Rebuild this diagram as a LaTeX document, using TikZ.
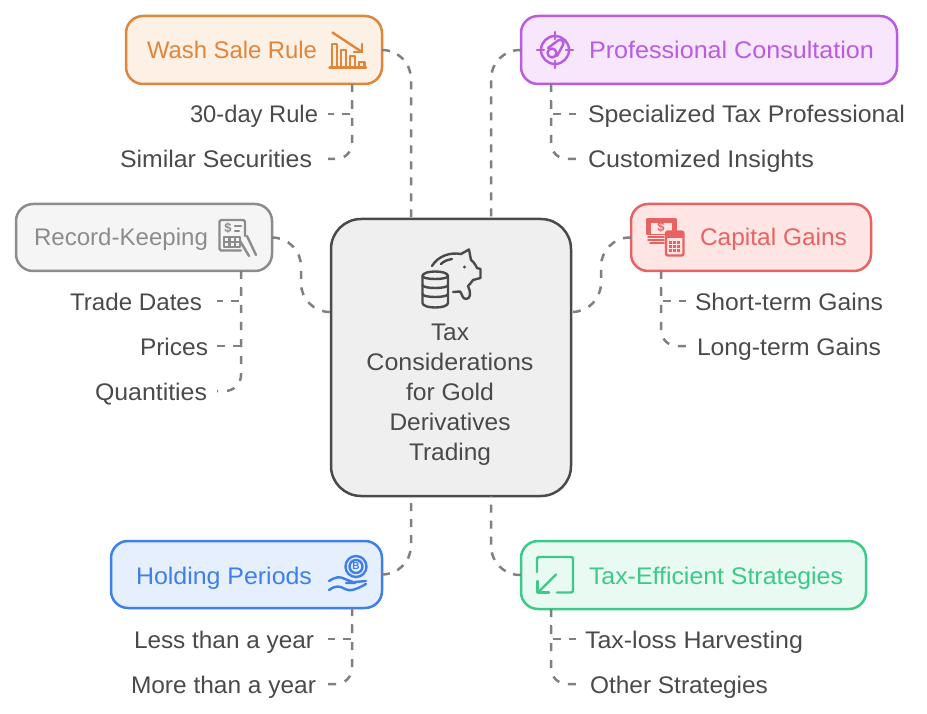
\documentclass[tikz,border=0pt]{standalone}
\usepackage{fontspec}
\usepackage{graphicx}
\setmainfont{Liberation Sans}
\usetikzlibrary{arrows.meta}
\newcommand\fitw[2]{\resizebox{#1pt}{\height}{#2}}
\definecolor{cwash}{HTML}{E0853A}\definecolor{fwash}{HTML}{FDF0E5}
\definecolor{cprof}{HTML}{B95CE0}\definecolor{fprof}{HTML}{F7E6FC}
\definecolor{crec}{HTML}{8C8C8C}\definecolor{frec}{HTML}{F5F5F5}
\definecolor{ccap}{HTML}{E86262}\definecolor{fcap}{HTML}{FFE6E4}
\definecolor{chold}{HTML}{3F7FE8}\definecolor{fhold}{HTML}{E5EFFE}
\definecolor{ctax}{HTML}{3CC98A}\definecolor{ftax}{HTML}{E8FAF2}
\definecolor{ccen}{HTML}{4A4A4A}\definecolor{fcen}{HTML}{EFEFEF}
\definecolor{clink}{HTML}{808080}
\tikzset{
 x=1pt,y=-1pt,
 boxnode/.style={draw,rounded corners=17pt,line width=2.5pt,inner sep=0,outer sep=0,anchor=north west},
 title/.style={inner sep=0,outer sep=0,anchor=base west,font=\fontsize{24}{28}\selectfont},
 child/.style={inner sep=0,outer sep=0,anchor=base west,text=ccen,font=\fontsize{24}{28}\selectfont},
 conn/.style={draw=clink,line width=2.5pt,dash pattern=on 8pt off 8pt},
 curve/.style={conn,rounded corners=29pt},
 scurve/.style={conn,rounded corners=29pt,dash pattern=on 8pt off 8.6pt},
 curvesmall/.style={conn,rounded corners=16pt,dash pattern=on 8pt off 9pt},
 ic/.style={line width=2.4pt,line cap=round,line join=round},
}
\begin{document}
\begin{tikzpicture}
\useasboundingbox (0,0) rectangle (927,714);
\coordinate (ctl) at (411,219);\coordinate (ctr) at (491,219);
\coordinate (cbl) at (411,496);\coordinate (cbr) at (491,496);
\coordinate (cl) at (331,312);\coordinate (cr) at (571,312);
\coordinate (e30) at (328,114);\coordinate (esim) at (328,159);
\coordinate (espec) at (576,114);\coordinate (ecus) at (576,159);
\coordinate (etra) at (217,301);\coordinate (epri) at (217,346);\coordinate (equa) at (217,391);
\coordinate (esho) at (686,301);\coordinate (elon) at (686,346);
\coordinate (eles) at (328,639);\coordinate (emor) at (328,684);
\coordinate (etl) at (576,639);\coordinate (eoth) at (576,684);
\coordinate (wb) at (352,84);\coordinate (pb) at (551,84);
\coordinate (rb) at (241,271);\coordinate (cb) at (661,271);
\coordinate (hb) at (352,608);\coordinate (tb) at (551,609);
% boxes
\node[boxnode,minimum width=256pt,minimum height=68pt,draw=cwash,fill=fwash] (wash) at (126,16) {};
\node[boxnode,minimum width=376pt,minimum height=68pt,draw=cprof,fill=fprof] (prof) at (521,16) {};
\node[boxnode,minimum width=256pt,minimum height=67pt,draw=crec,fill=frec] (rec) at (16,204) {};
\node[boxnode,minimum width=240pt,minimum height=67pt,draw=ccap,fill=fcap] (cap) at (631,204) {};
\node[boxnode,minimum width=271pt,minimum height=67pt,draw=chold,fill=fhold] (hold) at (111,541) {};
\node[boxnode,minimum width=345pt,minimum height=68pt,draw=ctax,fill=ftax] (tax) at (521,541) {};
\node[boxnode,minimum width=240pt,minimum height=277pt,draw=ccen,fill=fcen,rounded corners=30pt] (cen) at (331,219) {};
% connectors
\draw[curve] (wash.east) -| (ctl);
\draw[curve] (prof.west) -| (ctr);
\draw[curve] (hold.east) -| (cbl);
\draw[curve] (tax.west) -| (cbr);
\draw[scurve] (rec.east) -- (301,237.5) -- (301,312) -- (cl);
\draw[scurve] (cap.west) -- (601,237.5) -- (601,312) -- (cr);
\draw[conn] (wb) -- (352,114) -- (e30);
\draw[curvesmall] (wb) |- (esim);
\draw[conn] (pb) -- (551,114) -- (espec);
\draw[curvesmall] (pb) |- (ecus);
\draw[conn] (rb) -- (241,301) -- (etra);
\draw[conn] (241,346) -- (epri);
\draw[curvesmall] (rb) |- (equa);
\draw[conn] (cb) -- (661,301) -- (esho);
\draw[curvesmall] (cb) |- (elon);
\draw[conn] (hb) -- (352,639) -- (eles);
\draw[curvesmall] (hb) |- (emor);
\draw[conn] (tb) -- (551,639) -- (etl);
\draw[curvesmall] (tb) |- (eoth);
% titles
\node[title,text=cwash] (twash) at (147,58.5) {\fitw{170}{Wash Sale Rule}};
\node[title,text=cprof] (tprof) at (589,58.5) {\fitw{285}{Professional Consultation}};
\node[title,text=crec] (trec) at (34,246) {\fitw{174}{Record-Keeping}};
\node[title,text=ccap] (tcap) at (700,246) {\fitw{147}{Capital Gains}};
\node[title,text=chold] (thold) at (136,584) {\fitw{176}{Holding Periods}};
\node[title,text=ctax] (ttax) at (589,584) {\fitw{254}{Tax-Efficient Strategies}};
% children
\node[child] (n30) at (190,123) {\fitw{128}{30-day Rule}};
\node[child] (nsim) at (120,168) {\fitw{192}{Similar Securities}};
\node[child] (nspec) at (588,123) {\fitw{317}{Specialized Tax Professional}};
\node[child] (ncus) at (588,168) {\fitw{226}{Customized Insights}};
\node[child] (ntra) at (70,310) {\fitw{132}{Trade Dates}};
\node[child] (npri) at (140,355) {\fitw{68}{Prices}};
\node[child] (nqua) at (95,400) {\fitw{112}{Quantities}};
\node[child] (nsho) at (695,310) {\fitw{188}{Short-term Gains}};
\node[child] (nlon) at (697,355) {\fitw{184}{Long-term Gains}};
\node[child] (nles) at (134,648) {\fitw{180}{Less than a year}};
\node[child] (nmor) at (131,693) {\fitw{185}{More than a year}};
\node[child] (ntl) at (585,648) {\fitw{218}{Tax-loss Harvesting}};
\node[child] (noth) at (590,693) {\fitw{178}{Other Strategies}};
\node[child,anchor=center,align=center,font=\fontsize{24}{30}\selectfont] (tcen) at (450,394.5) {\fitw{38}{Tax}\\\fitw{167}{Considerations}\\\fitw{88}{for Gold}\\\fitw{121}{Derivatives}\\\fitw{82}{Trading}};
% wash icon
\begin{scope}[ic,draw=cwash]
\draw (329.5,67.5) -- (366,67.5);
\draw (332,66) -- (332,44) -- (337,44) -- (337,66);
\draw (341,66) -- (341,50) -- (346,50) -- (346,66);
\draw (350,66) -- (350,56) -- (355,56) -- (355,66);
\draw (359,66) -- (359,62) -- (364.5,62) -- (364.5,66);
\draw (332.5,32.5) -- (362,52);
\draw (362,44) -- (362,52) -- (354,52);
\end{scope}
% professional icon
\begin{scope}[ic,draw=cprof]
\draw (555,50) circle (14);
\draw (555,32) -- (555,39);\draw (555,61) -- (555,68);
\draw (537,50) -- (544,50);\draw (566,50) -- (573,50);
\draw (552,53) circle (4.5);
\draw (548,48) -- (558,40.5) .. controls (561,38.5) and (565,41.5) .. (563,45) -- (557,56);
\end{scope}
% record icon
\begin{scope}[ic,draw=crec]
\draw[rounded corners=1.5pt] (245,236) -- (245,220) -- (219.5,220) -- (219.5,250.5) -- (241,250.5);
\node[inner sep=0,text=crec,font=\fontsize{13}{13}\selectfont\bfseries] (dollarrec) at (228,228) {\$};
\draw (235,226) -- (241,226);\draw (235,231) -- (239,231);
\draw (224,237) rectangle (240,247);
\draw (229.5,237) -- (229.5,247);\draw (235,237) -- (235,247);\draw (224,242) -- (240,242);
\draw (247,236) -- (256,255);\draw (240,241) -- (249,256);
\end{scope}
% piggy icon
\begin{scope}[ic,draw=ccen]
\draw (432,266) .. controls (438,256) and (450,252) .. (461,254) -- (469,249.5) -- (471,260) .. controls (474,262) and (476,266) .. (477,268) -- (480.5,269) -- (480.5,278) -- (473,280) .. controls (471,283) and (470,284) .. (468,286) .. controls (471,292) and (471,299) .. (466,299) .. controls (462,299) and (462,293) .. (460,291.5) -- (453,292);
\draw (441,264) .. controls (444,261) and (447,260) .. (452,259);
\fill[ccen] (464.5,267) circle (1.6);
\draw (422.5,276) .. controls (422.5,270) and (448,270) .. (448,276) -- (448,303) .. controls (448,309) and (422.5,309) .. (422.5,303) -- cycle;
\draw (422.5,276) .. controls (422.5,280) and (448,280) .. (448,276);
\draw (422.5,285) .. controls (422.5,289) and (448,289) .. (448,285);
\draw (422.5,294) .. controls (422.5,298) and (448,298) .. (448,294);
\end{scope}
% capital icon
\begin{scope}[ic,draw=ccap]
\draw[fill=ccap] (647,219.5) rectangle (676,234);
\draw[fill=fcap,draw=none] (651,223) rectangle (672,234);
\node[inner sep=0,text=ccap,font=\fontsize{13}{13}\selectfont\bfseries] (dollarcap) at (661,227) {\$};
\draw[line width=1.5pt] (648,237) -- (664,237);\draw[line width=1.5pt] (648,240) -- (664,240);\draw[line width=1.5pt] (650,243) -- (664,243);
\draw[rounded corners=2pt,fill=fcap] (666,231.5) rectangle (683.5,255.5);
\fill[ccap] (666,231.5) rectangle (683.5,238);
\foreach \xa in {669,673,677}{\foreach \ya in {241,245,249}{\fill[ccap] (\xa,\ya) rectangle ++(3,3);}}
\end{scope}
% holding icon
\begin{scope}[ic,draw=chold]
\draw (356,566.5) circle (10.5);
\draw (356,566.5) circle (6.5);
\node[inner sep=0,text=chold,font=\fontsize{10}{10}\selectfont\bfseries] (coin) at (356,566.5) {B};
\draw (329,581) .. controls (335,577) and (340,576) .. (345,579) .. controls (349,581) and (352,581) .. (355,583) -- (346,583);
\draw (355,582) -- (366,581);
\draw (329,590) .. controls (336,585) and (340,586) .. (345,589) .. controls (350,592) and (357,589) .. (366,584);
\end{scope}
% tax icon
\begin{scope}[ic,draw=ctax]
\draw[rounded corners=2pt] (537,572) -- (537,557) -- (573,557) -- (573,592.5) -- (557,592.5);
\draw (556,574.5) -- (538,592.5);
\draw (537.5,581) -- (537.5,592.5) -- (549,592.5);
\end{scope}
\end{tikzpicture}
\end{document}
